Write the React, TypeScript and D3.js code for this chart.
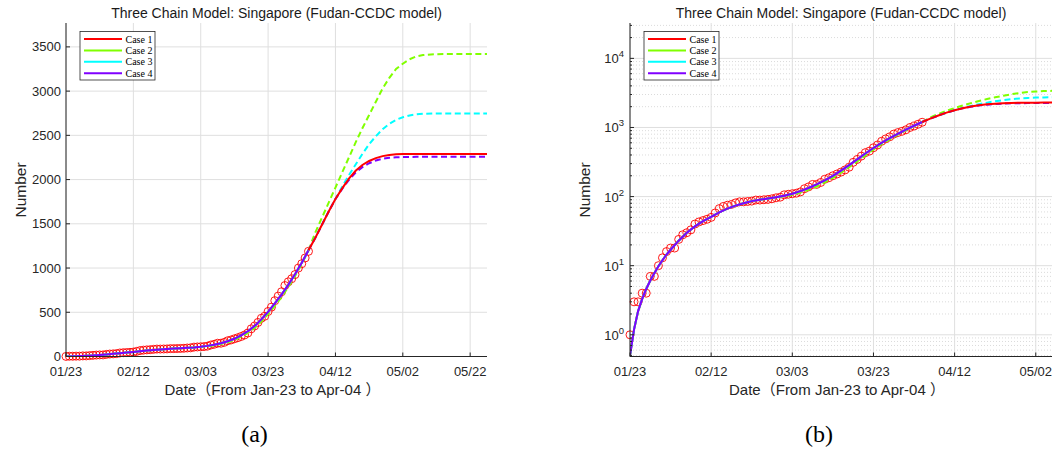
import React from "react";
import * as d3 from "d3";

// observed cumulative cases, one per day from 01/23 (day 0) to 04/04 (day 72)
const observed = [
  1, 3, 3, 4, 4, 7, 7, 10, 13, 16, 18, 18, 24, 28, 30, 33, 40, 43, 45, 47,
  50, 58, 67, 72, 75, 77, 81, 84, 84, 85, 86, 89, 89, 90, 91, 93, 96, 98, 106, 108,
  110, 112, 117, 130, 138, 150, 150, 160, 178, 187, 200, 212, 226, 243, 266, 313, 345, 385, 432, 455,
  509, 558, 631, 683, 732, 802, 844, 879, 926, 1000, 1049, 1114, 1189,
];

// fitted part (case 1, 3, 4 share it; case 2 runs a little lower in March)
const fitDays = [0, 1, 2, 3, 4, 5, 6, 7, 8, 9, 10, 12, 14, 16, 18, 20, 22, 24, 26, 28, 30, 32, 34, 36, 38, 40, 42, 44, 46, 48, 50, 52, 54, 56, 58, 60, 62, 64, 66, 68, 70, 72];
const fitValues = [0.5, 1.2, 2.2, 3.3, 4.6, 6.1, 7.8, 9.8, 12, 14.5, 17, 23, 30, 37, 44, 51, 59, 67, 74, 80, 86, 90, 94, 98, 103, 110, 120, 133, 150, 172, 200, 238, 285, 345, 420, 505, 600, 700, 810, 930, 1060, 1200];
const fitValues2 = [0.5, 1.2, 2.2, 3.3, 4.6, 6.1, 7.8, 9.8, 12, 14.5, 17, 23, 30, 37, 44, 51, 59, 67, 74, 80, 86, 90, 93, 97, 101, 106, 114, 125, 140, 160, 186, 221, 266, 322, 395, 478, 572, 672, 785, 910, 1045, 1200];

// prediction part
const predDays = [72, 74, 76, 78, 80, 82, 84, 86, 88, 90, 92, 94, 96, 98, 100, 102, 104, 106, 110, 115, 125];
const case1 = [1200, 1340, 1490, 1640, 1780, 1900, 2010, 2100, 2165, 2210, 2243, 2265, 2278, 2285, 2288, 2289, 2290, 2290, 2290, 2290, 2290];
const case2 = [1200, 1400, 1570, 1740, 1910, 2080, 2250, 2420, 2580, 2730, 2880, 3030, 3150, 3250, 3310, 3360, 3392, 3408, 3418, 3420, 3420];
const case3 = [1200, 1345, 1490, 1640, 1780, 1920, 2050, 2170, 2290, 2400, 2490, 2570, 2630, 2675, 2705, 2725, 2737, 2743, 2747, 2748, 2748];
const case4 = [1200, 1340, 1490, 1640, 1780, 1895, 1995, 2080, 2140, 2185, 2215, 2235, 2246, 2252, 2255, 2256, 2257, 2257, 2257, 2257, 2257];

const caseNames = ["Case 1", "Case 2", "Case 3", "Case 4"];
const caseColors = ["#ff0000", "#80ff00", "#00ffff", "#8000ff"];
const caseDashed = [false, true, true, true];
const caseFits = [fitValues, fitValues2, fitValues, fitValues];
const caseValues = [case1, case2, case3, case4];

const tickDays = [0, 20, 40, 60, 80, 100, 120];
const tickLabels = ["01/23", "02/12", "03/03", "03/23", "04/12", "05/02", "05/22"];
const linearTicks = [0, 500, 1000, 1500, 2000, 2500, 3000, 3500];
const logTicks = [1, 10, 100, 1000, 10000];

const axisColor = "#262626";
const gridColor = "#dfdfdf";
const sans = "'Liberation Sans', Arial, sans-serif";
const serif = "'Liberation Serif', 'Times New Roman', serif";

type PanelProps = {
  id: string;
  left: number;
  right: number;
  maxDay: number;
  log: boolean;
  label: string;
};

const Panel = ({ id, left, right, maxDay, log, label }: PanelProps) => {
  const top = 23;
  const bottom = 356.5;
  const x = d3.scaleLinear().domain([0, maxDay]).range([left, right]);
  const y: any = log
    ? d3.scaleLog().domain([0.485, 32500]).range([bottom, top])
    : d3.scaleLinear().domain([0, 3770]).range([bottom, top]);

  const line = d3
    .line<[number, number]>()
    .x((d) => x(d[0]))
    .y((d) => y(d[1]));

  const yTicks = log ? logTicks : linearTicks;

  const minor: number[] = [];
  if (log) {
    for (let k = -1; k <= 4; k++) {
      for (let m = 2; m <= 9; m++) {
        const v = m * Math.pow(10, k);
        if (v > 0.485 && v < 32500) minor.push(v);
      }
    }
  }

  const cx = (left + right) / 2;
  const lgX = left + 14;

  return (
    <g>
      <defs>
        <clipPath id={id}>
          <rect x={left} y={top} width={right - left} height={bottom - top} />
        </clipPath>
      </defs>
      {/* grid */}
      {minor.map((v) => (
        <line key={"mn" + v} x1={left} x2={right} y1={y(v)} y2={y(v)} stroke="#d2d2d2" strokeWidth={0.8} strokeDasharray="1,2" />
      ))}
      {tickDays
        .filter((d) => d <= maxDay)
        .map((d) => (
          <line key={"gx" + d} x1={x(d)} x2={x(d)} y1={top} y2={bottom} stroke={gridColor} strokeWidth={1} />
        ))}
      {yTicks.map((v) => (
        <line key={"gy" + v} x1={left} x2={right} y1={y(v)} y2={y(v)} stroke={gridColor} strokeWidth={1} />
      ))}

      {observed.map((v, i) => (
        <circle key={"o" + i} cx={x(i)} cy={y(v)} r={4} fill="none" stroke="#ff0000" strokeWidth={0.9} />
      ))}
      <g clipPath={`url(#${id})`}>
        {caseColors.map((c, i) => (
          <path
            key={"f" + i}
            d={line(fitDays.map((d, j) => [d, caseFits[i][j]] as [number, number])) || ""}
            fill="none"
            stroke={c}
            strokeWidth={2}
            strokeDasharray={i === 1 ? "6,3.5" : undefined}
          />
        ))}
        {[1, 2, 3, 0].map((i) => (
          <path
            key={"p" + i}
            d={line(predDays.map((d, j) => [d, caseValues[i][j]] as [number, number])) || ""}
            fill="none"
            stroke={caseColors[i]}
            strokeWidth={2}
            strokeDasharray={caseDashed[i] ? "6,3.5" : undefined}
          />
        ))}
      </g>

      {/* axes */}
      <line x1={left} x2={left} y1={top} y2={bottom} stroke={axisColor} strokeWidth={1} />
      <line x1={left} x2={right} y1={bottom} y2={bottom} stroke={axisColor} strokeWidth={1} />
      {tickDays
        .filter((d) => d <= maxDay)
        .map((d, i) => (
          <g key={"tx" + d}>
            <line x1={x(d)} x2={x(d)} y1={bottom} y2={bottom - 4} stroke={axisColor} />
            <text x={x(d)} y={376} textAnchor="middle" fontFamily={sans} fontSize={13} fill={axisColor}>
              {tickLabels[i]}
            </text>
          </g>
        ))}
      {yTicks.map((v, i) => (
        <g key={"ty" + v}>
          <line x1={left} x2={left + 4} y1={y(v)} y2={y(v)} stroke={axisColor} />
          {log ? (
            <text x={left - 6} y={y(v) + 5} textAnchor="end" fontFamily={sans} fontSize={13} fill={axisColor}>
              10<tspan fontSize={9.5} dy={-6}>{i}</tspan>
            </text>
          ) : (
            <text x={left - 5} y={y(v) + 4.5} textAnchor="end" fontFamily={sans} fontSize={13} fill={axisColor}>
              {v}
            </text>
          )}
        </g>
      ))}
      {minor.map((v) => (
        <line key={"mt" + v} x1={left} x2={left + 2} y1={y(v)} y2={y(v)} stroke={axisColor} />
      ))}

      {/* labels */}
      <text x={cx} y={18} textAnchor="middle" fontFamily={sans} fontSize={14} fill="#1a1a1a">
        Three Chain Model: Singapore (Fudan-CCDC model)
      </text>
      <text x={cx - 4} y={395} textAnchor="middle" fontFamily={`${sans}, 'Noto Sans CJK SC'`} fontSize={15} fill={axisColor}>
        Date（From Jan-23 to Apr-04 ）
      </text>
      <text
        transform={`translate(${left - 40},190) rotate(-90)`}
        textAnchor="middle"
        fontFamily={sans}
        fontSize={15.5}
        fill={axisColor}
      >
        Number
      </text>
      <text x={cx - 22} y={442} textAnchor="middle" fontFamily={serif} fontSize={24} fill="#000">
        {label}
      </text>

      {/* legend */}
      <rect x={lgX} y={31.5} width={75} height={48.5} fill="#fff" stroke={axisColor} strokeWidth={0.8} />
      {caseNames.map((n, i) => (
        <g key={n} transform={`translate(${lgX + 4},${39 + i * 11.4})`}>
          <line x1={0} x2={38} y1={0} y2={0} stroke={caseColors[i]} strokeWidth={2} />
          <text x={41.5} y={3.5} fontFamily={serif} fontSize={10} fill="#000">
            {n}
          </text>
        </g>
      ))}
    </g>
  );
};

export default function App() {
  return (
    <svg
      width={1054}
      height={451}
      style={{ position: "absolute", left: 0, top: 0, background: "#fff" }}
    >
      <rect width={1054} height={451} fill="#fff" />
      <Panel id="clipA" left={66} right={487} maxDay={125} log={false} label="(a)" />
      <Panel id="clipB" left={630} right={1052} maxDay={104} log={true} label="(b)" />
    </svg>
  );
}
